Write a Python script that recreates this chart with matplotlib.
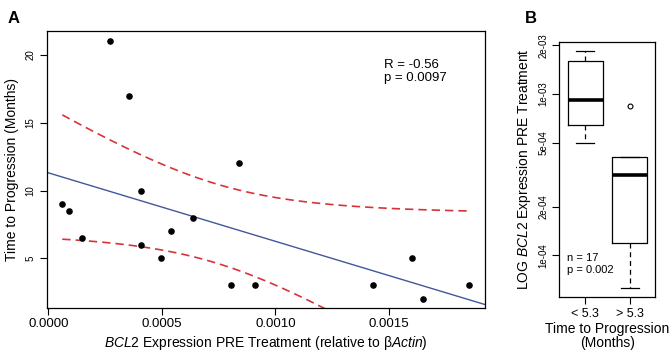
import numpy as np
import matplotlib
matplotlib.use('Agg')
import matplotlib.pyplot as plt

plt.rcParams['font.family'] = ['Liberation Sans', 'DejaVu Sans']
plt.rcParams['mathtext.fontset'] = 'custom'
plt.rcParams['mathtext.rm'] = 'Liberation Sans'
plt.rcParams['mathtext.it'] = 'Liberation Sans:italic'

# panel A: expression vs time to progression
bcl2 = [0.0000616, 0.0000898, 0.000147, 0.000272, 0.000354, 0.000407, 0.000407,
        0.000495, 0.000539, 0.000638, 0.000805, 0.000841, 0.000911, 0.00143,
        0.00160, 0.001648, 0.001853]
ttp = [9, 8.5, 6.5, 21, 17, 10, 6, 5, 7, 8, 3, 12, 3, 3, 5, 2, 3]

# panel B: box stats (log expression)
groups = ['< 5.3', '> 5.3']
q1 = [6.40e-4, 1.187e-4]
med = [9.18e-4, 3.15e-4]
q3 = [1.60e-3, 4.07e-4]
whislo = [4.97e-4, 6.27e-5]
whishi = [1.855e-3, 4.07e-4]
fliers = [[], [8.43e-4]]

fig = plt.figure(figsize=(6.72, 3.54), dpi=100)

# ---- A
ax = fig.add_axes([0.0695, 0.1299, 0.6522, 0.7825])
x = np.array(bcl2)
y = np.array(ttp)
ax.scatter(x, y, s=14, color='black', zorder=3)

b, a = np.polyfit(x, y, 1)
xl = np.array([-0.00002, 0.002])
ax.plot(xl, a + b * xl, color='#41579a', lw=1.0)

# confidence band (Working-Hotelling, 95%)
n = len(x)
resid = y - (a + b * x)
s = np.sqrt(np.sum(resid ** 2) / (n - 2))
sxx = np.sum((x - x.mean()) ** 2)
xs = np.linspace(x.min(), x.max(), 100)
fit = a + b * xs
half = np.sqrt(2 * 3.6823) * s * np.sqrt(1 / n + (xs - x.mean()) ** 2 / sxx)
ax.plot(xs, fit + half, color='#d6343a', lw=1.2, ls=(0, (5, 3)))
ax.plot(xs, fit - half, color='#d6343a', lw=1.2, ls=(0, (5, 3)))

ax.set_xlim(-0.000007, 0.001922)
ax.set_ylim(1.33, 21.77)
ax.set_xticks([0, 0.0005, 0.001, 0.0015])
ax.set_xticklabels(['0.0000', '0.0005', '0.0010', '0.0015'], fontsize=9.5)
ax.set_yticks([5, 10, 15, 20])
ax.set_yticklabels(['5', '10', '15', '20'], fontsize=7, rotation=90, va='center')
ax.tick_params(length=5, width=0.8)
ax.tick_params(axis='x', pad=2)
ax.tick_params(axis='y', pad=3)
for sp in ax.spines.values():
    sp.set_linewidth(0.9)
ax.set_xlabel(r'$\mathit{BCL2}$ Expression PRE Treatment (relative to β$\mathit{Actin)}$',
              fontsize=10, labelpad=3)
ax.set_ylabel('Time to Progression (Months)', fontsize=10, labelpad=5)
ax.text(0.77, 0.855, 'R = -0.56\np = 0.0097', transform=ax.transAxes,
        fontsize=9.5, va='center', ha='left', linespacing=1.1)
fig.text(0.012, 0.97, 'A', fontsize=12, fontweight='bold', va='top')

# ---- B
bx = fig.add_axes([0.8323, 0.1602, 0.1428, 0.722])
stats = []
for i in range(2):
    stats.append({'med': med[i], 'q1': q1[i], 'q3': q3[i],
                  'whislo': whislo[i], 'whishi': whishi[i], 'fliers': fliers[i]})
bx.bxp(stats, positions=[1, 2], widths=0.8, showfliers=True,
       boxprops=dict(color='black', lw=0.9),
       medianprops=dict(color='black', lw=2.6),
       whiskerprops=dict(color='black', lw=0.9, ls=(0, (4, 3))),
       capprops=dict(color='black', lw=0.9),
       flierprops=dict(marker='o', markersize=3.5, markerfacecolor='none',
                       markeredgecolor='black', markeredgewidth=0.8),
       capwidths=0.4)
bx.set_yscale('log')
bx.set_xlim(0.414, 2.577)
bx.set_ylim(5.5e-5, 2.11e-3)
bx.set_yticks([1e-4, 2e-4, 5e-4, 1e-3, 2e-3])
bx.set_yticklabels(['1e-04', '2e-04', '5e-04', '1e-03', '2e-03'],
                   fontsize=7, rotation=90, va='center')
bx.minorticks_off()
bx.set_xticks([1, 2])
bx.set_xticklabels(groups, fontsize=9)
bx.tick_params(length=5, width=0.8)
bx.tick_params(axis='y', pad=3)
bx.tick_params(axis='x', pad=3)
for sp in bx.spines.values():
    sp.set_linewidth(0.9)
bx.set_ylabel(r'LOG $\mathit{BCL2}$ Expression PRE Treatment', fontsize=10, labelpad=4)
bx.set_xlabel('Time to Progression\n(Months)', fontsize=10, labelpad=1, linespacing=1.05)
bx.text(0.08, 0.13, 'n = 17\np = 0.002', transform=bx.transAxes,
        fontsize=8, va='center', ha='left', linespacing=1.15)
fig.text(0.781, 0.97, 'B', fontsize=12, fontweight='bold', va='top')

fig.savefig('out.png', dpi=100)
